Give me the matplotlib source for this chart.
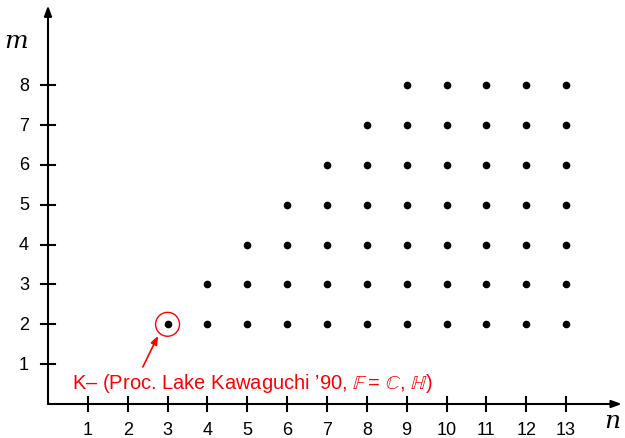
import matplotlib.pyplot as plt
from matplotlib.patches import Circle

# grid of (n, m) points shown: m runs from 2 up to min(n-1, 8)
n_vals = [3, 4, 5, 6, 7, 8, 9, 10, 11, 12, 13]
m_max = [2, 3, 4, 5, 6, 7, 8, 8, 8, 8, 8]
m_min = 2
x_ticks = list(range(1, 14))
y_ticks = list(range(1, 9))
note = ("K– (Proc. Lake Kawaguchi ’90, $\\mathbb{F}$ = $\\mathbb{C}$, "
        "$\\mathbb{H}$)")
marked = (3, 2)

plt.rcParams["font.family"] = ["Liberation Sans", "DejaVu Sans"]
plt.rcParams["mathtext.fontset"] = "stix"

fig = plt.figure(figsize=(6.25, 4.39), dpi=100)
ax = fig.add_axes([0, 0, 1, 1])
unit = 39.85
ax.set_xlim(-48 / unit, (625 - 48) / unit)
ax.set_ylim(-(439 - 405) / unit, 405 / unit)
ax.axis("off")

# axes with arrows
ax.annotate("", xy=(14.4, 0), xytext=(0, 0),
            arrowprops=dict(arrowstyle="-|>,head_length=0.6,head_width=0.22",
                            color="black", lw=1.5, shrinkA=0, shrinkB=0))
ax.annotate("", xy=(0, 10.0), xytext=(0, 0),
            arrowprops=dict(arrowstyle="-|>,head_length=0.6,head_width=0.22",
                            color="black", lw=1.5, shrinkA=0, shrinkB=0))

tl = 0.17
for t in x_ticks:
    ax.plot([t, t], [-tl, tl], color="black", lw=1.5)
    ax.text(t, -0.64, str(t), ha="center", va="center", fontsize=13)
for t in y_ticks:
    ax.plot([-tl, tl], [t, t], color="black", lw=1.5)
    ax.text(-0.6, t, str(t), ha="center", va="center", fontsize=13)

ax.text(-0.8, 9.12, "m", fontsize=18, style="italic", family="DejaVu Serif",
        ha="center", va="center")
ax.text(14.15, -0.42, "n", fontsize=18, style="italic", family="DejaVu Serif",
        ha="center", va="center")

xs, ys = [], []
for n, top in zip(n_vals, m_max):
    for m in range(m_min, top + 1):
        xs.append(n)
        ys.append(m)
ax.plot(xs, ys, "o", color="black", markersize=4.5)

ax.add_patch(Circle(marked, 0.3, fill=False, edgecolor="red", lw=1))
ax.annotate("", xy=(2.76, 1.71), xytext=(2.38, 0.93),
            arrowprops=dict(arrowstyle="-|>,head_length=0.5,head_width=0.2",
                            color="red", lw=1.2, shrinkA=0, shrinkB=0))
ax.text(0.6, 0.53, note, color="red", fontsize=14.5, ha="left", va="center")

fig.savefig("out.png", dpi=100)
